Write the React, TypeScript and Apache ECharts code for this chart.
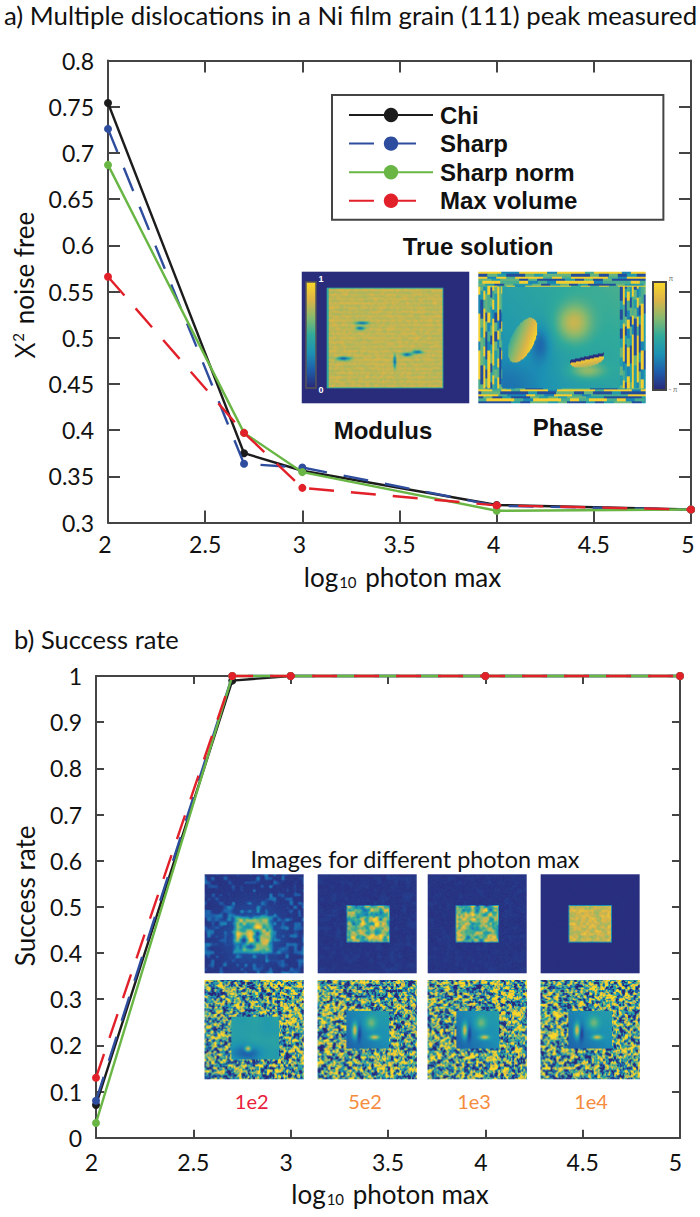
import React, { useEffect, useRef } from "react";
import * as echarts from "echarts";

const photonLog = [2, 2.7, 3, 4, 5];
const chiA = [0.754, 0.375, 0.356, 0.319, 0.314];
const sharpA = [0.726, 0.3635, 0.3595, 0.318, 0.314];
const sharpNormA = [0.687, 0.397, 0.3545, 0.3127, 0.314];
const maxVolumeA = [0.566, 0.397, 0.3375, 0.3185, 0.314];
const chiB = [0.071, 0.99, 1, 1, 1];
const sharpB = [0.08, 1, 1, 1, 1];
const sharpNormB = [0.032, 1, 1, 1, 1];
const maxVolumeB = [0.13, 1, 1, 1, 1];
const seriesNames = ["Chi", "Sharp", "Sharp norm", "Max volume"];
const seriesColors = ["#1c1c1c", "#2f4d9e", "#69b645", "#e2202a"];
const panelLabels = ["1e2", "5e2", "1e3", "1e4"];
const panelLabelColors = ["#e8203c", "#f58b3d", "#f58b3d", "#f58b3d"];

const FONT = 'Lato, "Open Sans", sans-serif';
const BOLD = '"Liberation Sans", Arial, sans-serif';
const AXIS = "#444444";

const STOPS: [number, number, number][] = [
  [42, 40, 120], [30, 92, 170], [28, 145, 180], [48, 170, 155], [135, 185, 110], [220, 180, 72], [250, 216, 40],
];
function cmap(t: number) {
  const c = Math.max(0, Math.min(0.9999, t)) * (STOPS.length - 1);
  const i = Math.floor(c), f = c - i;
  const a = STOPS[i], b = STOPS[i + 1];
  return [a[0] + (b[0] - a[0]) * f, a[1] + (b[1] - a[1]) * f, a[2] + (b[2] - a[2]) * f];
}
function hash(x: number, y: number, s: number) {
  const v = Math.sin(x * 12.9898 + y * 78.233 + s * 37.719) * 43758.5453;
  return v - Math.floor(v);
}
function vnoise(x: number, y: number, s: number) {
  const xi = Math.floor(x), yi = Math.floor(y);
  let fx = x - xi, fy = y - yi;
  fx = fx * fx * (3 - 2 * fx);
  fy = fy * fy * (3 - 2 * fy);
  const a = hash(xi, yi, s), b = hash(xi + 1, yi, s), c = hash(xi, yi + 1, s), d = hash(xi + 1, yi + 1, s);
  return a + (b - a) * fx + (c - a) * fy + (a - b - c + d) * fx * fy;
}
const gauss = (u: number, v: number, cx: number, cy: number, rx: number, ry: number) =>
  Math.exp(-(((u - cx) / rx) ** 2 + ((v - cy) / ry) ** 2));

function texture(w: number, h: number, fn: (u: number, v: number) => number) {
  const cv = document.createElement("canvas");
  cv.width = w;
  cv.height = h;
  const ctx = cv.getContext("2d")!;
  const im = ctx.createImageData(w, h);
  for (let y = 0; y < h; y++)
    for (let x = 0; x < w; x++) {
      const [r, g, b] = cmap(fn((x + 0.5) / w, (y + 0.5) / h));
      const k = (y * w + x) * 4;
      im.data[k] = r; im.data[k + 1] = g; im.data[k + 2] = b; im.data[k + 3] = 255;
    }
  ctx.putImageData(im, 0, 0);
  return cv.toDataURL("image/png");
}

const modulusTrue = (u: number, v: number) => {
  const inside = u > 0.15 && u < 0.845 && v > 0.12 && v < 0.885;
  if (!inside) return 0.01;
  const edge = Math.min(u - 0.15, 0.845 - u, v - 0.12, 0.885 - v);
  if (edge < 0.008) return 0.5;
  let t = 0.78 + 0.025 * Math.sin(v * 190) + 0.09 * (vnoise(u * 70, v * 70, 3) - 0.5);
  t -= 0.55 * gauss(u, v, 0.36, 0.39, 0.04, 0.012);
  t -= 0.6 * gauss(u, v, 0.35, 0.43, 0.025, 0.012);
  t -= 0.6 * gauss(u, v, 0.25, 0.66, 0.04, 0.014);
  t -= 0.6 * gauss(u, v, 0.555, 0.68, 0.008, 0.05);
  t -= 0.6 * gauss(u, v, 0.63, 0.63, 0.03, 0.012);
  t -= 0.6 * gauss(u, v, 0.69, 0.61, 0.03, 0.012);
  return t;
};

const mazeCell = (u: number, v: number) => {
  const W = 72, H = 56;
  const horiz = v < 0.11 || v > 0.885;
  const line = horiz ? Math.floor(v * H) : Math.floor(u * W);
  const along = horiz ? u * W : v * H;
  const seg = Math.floor(along / 4 + hash(line, 1, 8) * 4);
  const r = hash(line, seg, 5);
  if (line % 2 === 0) return r < 0.62 ? 0.96 : r < 0.85 ? 0.55 : 0.3;
  return r < 0.45 ? 0.12 : r < 0.75 ? 0.4 : 0.6;
};
const phaseTrue = (u: number, v: number) => {
  const inside = u > 0.14 && u < 0.845 && v > 0.11 && v < 0.885;
  if (!inside) return mazeCell(u, v);
  let t = 0.3 + 0.18 * u - 0.12 * (v - 0.5) + 0.05;
  t -= 0.1 * gauss(u, v, 0.2, 0.85, 0.2, 0.2);
  t += 0.33 * gauss(u, v, 0.57, 0.39, 0.1, 0.14);
  const d1 = (u - 0.265 - (v - 0.52) * -0.28) / 0.075, d2 = (v - 0.52) / 0.17;
  if (d1 * d1 + d2 * d2 < 1) t = 0.52 + 0.46 * (d1 + 1) / 2;
  else t -= 0.2 * gauss(u, v, 0.37, 0.55, 0.06, 0.14);
  const d3 = (u - 0.65) / 0.1, d4 = (v - 0.675 - (u - 0.65) * -0.22) / 0.05;
  if (d3 * d3 + d4 * d4 < 1 && v > 0.655 - (u - 0.65) * 0.28) t = 0.92 - 0.2 * Math.max(0, d4);
  else t += 0.25 * gauss(u, v, 0.65, 0.75, 0.1, 0.06);
  if (Math.abs(v - 0.655 + (u - 0.65) * 0.28) < 0.012 && Math.abs(u - 0.65) < 0.1) t = 0.02;
  return t;
};
const colorbar = (_u: number, v: number) => 1 - v;

function noisyModulus(i: number) {
  const bgAmp = [0.3, 0.04, 0.03, 0.006][i];
  const hi = [0.54, 0.6, 0.58, 0.8][i];
  const amp = [0.55, 0.55, 0.55, 0.16][i];
  const x0 = [0.28, 0.29, 0.28, 0.28][i], x1 = [0.7, 0.73, 0.72, 0.72][i];
  const y0 = [0.41, 0.31, 0.31, 0.31][i], y1 = [0.81, 0.69, 0.69, 0.69][i];
  return (u: number, v: number) => {
    const halo = i === 0 ? 0.13 * gauss(u, v, 0.49, 0.61, 0.3, 0.28) : 0;
    const bg = 0.02 + halo + bgAmp * Math.max(0, vnoise(u * 24, v * 24, 10 + i) - 0.55) * 1.8 + 0.04 * hash(u * 100, v * 100, i) * (i === 3 ? 0 : 1);
    const s = i === 0 ? 0.05 : 0.012;
    const mask = Math.min(
      Math.min(1, Math.max(0, (u - x0) / s)), Math.min(1, Math.max(0, (x1 - u) / s)),
      Math.min(1, Math.max(0, (v - y0) / s)), Math.min(1, Math.max(0, (y1 - v) / s)),
    );
    const scale = i === 3 ? 38 : i === 0 ? 15 : 22;
    const n = 0.65 * vnoise(u * scale, v * scale, 20 + i) + 0.35 * vnoise(u * scale * 2, v * scale * 2, 30 + i);
    const val = hi + (n - 0.5) * 2 * amp;
    return bg * (1 - mask) + val * mask;
  };
}
function noisyPhase(i: number) {
  const x0 = [0.27, 0.29, 0.29, 0.28][i], x1 = [0.75, 0.72, 0.72, 0.72][i];
  const y0 = [0.37, 0.31, 0.31, 0.31][i], y1 = [0.8, 0.69, 0.69, 0.69][i];
  return (u: number, v: number) => {
    const n = 0.55 * vnoise(u * 36, v * 36, 40 + i) + 0.45 * vnoise(u * 72, v * 72, 50 + i);
    const out = 0.5 + (n - 0.5) * 2.5;
    if (u < x0 || u > x1 || v < y0 || v > y1) return out;
    const cu = (u - x0) / (x1 - x0), cv = (v - y0) / (y1 - y0);
    let t = i === 0 ? 0.42 + 0.08 * (vnoise(u * 8, v * 8, 60) - 0.5) : 0.25 + 0.14 * cu - 0.1 * cv + 0.03;
    if (i === 0) {
      t -= 0.24 * gauss(cu, cv, 0.3, 0.85, 0.3, 0.2);
      t += 0.6 * gauss(cu, cv, 0.35, 0.75, 0.06, 0.06);
    } else {
      t += 0.6 * gauss(cu, cv, 0.2, 0.52, 0.06, 0.18);
      t -= 0.2 * gauss(cu, cv, 0.3, 0.6, 0.05, 0.2);
      t += 0.3 * gauss(cu, cv, 0.58, 0.32, 0.13, 0.17);
      t += 0.55 * gauss(cu, cv, 0.66, 0.7, 0.11, 0.06);
    }
    return t;
  };
}

const rich = {
  n: { fontFamily: FONT, fontSize: 26, color: "#111" },
  x: { fontFamily: '"Open Sans", sans-serif', fontSize: 27, color: "#111" },
  sub: { fontFamily: FONT, fontSize: 15, color: "#111", verticalAlign: "bottom", padding: [10, 2, 0, 1] },
  sup: { fontFamily: FONT, fontSize: 15, color: "#111", verticalAlign: "top", padding: [0, 2, 10, 1] },
};
const xName = "{n|log}{sub|10}{n| photon max}";

function xAxes(gridIndex: number, nameGap: number, padLeft: number, margin: number, tick: number, intPad: number) {
  const base = {
    gridIndex, type: "value", min: 2, max: 5, interval: 0.5,
    splitLine: { show: false },
    axisLine: { show: true, onZero: false, lineStyle: { color: AXIS, width: 2 } },
    axisTick: { show: true, inside: true, length: tick, lineStyle: { color: AXIS, width: 2 } },
  };
  return [
    {
      ...base, position: "bottom", name: xName, nameLocation: "middle", nameGap,
      nameTextStyle: { rich, padding: [0, 0, 0, padLeft] },
      axisLabel: {
        fontFamily: FONT, fontSize: 23, color: "#111", margin, showMinLabel: true, showMaxLabel: true,
        formatter: (v: number) => (Number.isInteger(v) ? `{i|${v}}` : `${v}`),
        rich: { i: { fontFamily: FONT, fontSize: 23, color: "#111", padding: [0, intPad, 0, 0] } },
      },
    },
    { ...base, position: "top", axisLabel: { show: false } },
  ];
}
function yAxes(gridIndex: number, min: number, max: number, interval: number, name: string, nameGap: number, padLeft: number, raise: number, tick: number) {
  const base = {
    gridIndex, type: "value", min, max, interval,
    splitLine: { show: false },
    axisLine: { show: true, onZero: false, lineStyle: { color: AXIS, width: 2 } },
    axisTick: { show: true, inside: true, length: tick, lineStyle: { color: AXIS, width: 2 } },
  };
  return [
    {
      ...base, position: "left", name, nameLocation: "middle", nameGap, nameRotate: 90,
      nameTextStyle: { rich, padding: [0, 0, 0, padLeft] },
      axisLabel: { fontFamily: FONT, fontSize: 23, color: "#111", margin: 14, padding: [0, 0, raise, 0], showMinLabel: true, showMaxLabel: true },
    },
    { ...base, position: "right", axisLabel: { show: false } },
  ];
}
function lineSeries(i: number, values: number[], axisIndex: number) {
  const dashed = i === 1 || i === 3;
  return {
    type: "line", name: seriesNames[i], xAxisIndex: axisIndex, yAxisIndex: axisIndex,
    data: values.map((y, k) => [photonLog[k], y]),
    symbol: "circle", symbolSize: 8, clip: false, z: 3 + i,
    itemStyle: { color: seriesColors[i] },
    lineStyle: { color: seriesColors[i], width: 2.4, type: dashed ? [25, 17] : "solid" },
  };
}
function boldText(text: string, x: number, y: number) {
  return { type: "text", x, y, style: { text, fontFamily: BOLD, fontWeight: "bold", fontSize: 24, fill: "#111", align: "center", verticalAlign: "middle" } };
}
function img(image: string, x: number, y: number, width: number, height: number) {
  return { type: "image", style: { image, x, y, width, height } };
}

function buildGraphic() {
  const cols = [[204.3, 99.7], [316.7, 101], [426.7, 101], [540.3, 99.7]];
  const els: any[] = [
    boldText("True solution", 478, 246),
    boldText("Modulus", 383, 430),
    boldText("Phase", 568, 427),
    img(texture(168, 132, modulusTrue), 301.7, 271.7, 167.6, 131.6),
    img(texture(168, 132, phaseTrue), 478.3, 271.7, 167.4, 131.6),
    { ...img(texture(10, 106, colorbar), 306, 282, 10, 106), z: 4 },
    { type: "rect", shape: { x: 306, y: 282, width: 10, height: 106 }, style: { fill: "none", stroke: "#555", lineWidth: 1.5 }, z: 5 },
    { type: "text", x: 321, y: 279, z: 5, style: { text: "1", fontFamily: BOLD, fontWeight: "bold", fontSize: 9, fill: "#ffffff", align: "center", verticalAlign: "middle" } },
    { type: "text", x: 321, y: 390, z: 5, style: { text: "0", fontFamily: BOLD, fontWeight: "bold", fontSize: 9, fill: "#ffffff", align: "center", verticalAlign: "middle" } },
    { ...img(texture(13, 108, colorbar), 653, 282, 13, 108), z: 4 },
    { type: "rect", shape: { x: 653, y: 282, width: 13, height: 108 }, style: { fill: "none", stroke: "#444", lineWidth: 2 }, z: 5 },
    { type: "text", x: 671, y: 278, style: { text: "π", fontFamily: FONT, fontSize: 7, fill: "#777", align: "center", verticalAlign: "middle" } },
    { type: "text", x: 673, y: 389, style: { text: "- π", fontFamily: FONT, fontSize: 7, fill: "#777", align: "center", verticalAlign: "middle" } },
    { type: "text", x: 415, y: 859, style: { text: "Images for different photon max", fontFamily: FONT, fontSize: 23.4, fill: "#111", align: "center", verticalAlign: "middle" } },
  ];
  cols.forEach(([x, w], i) => {
    els.push(img(texture(100, 100, noisyModulus(i)), x, 874.3, w, 99));
    els.push(img(texture(100, 100, noisyPhase(i)), x, 980, w, 99.3));
  });
  panelLabels.forEach((t, i) => {
    els.push({
      type: "text", x: [251.7, 365, 474, 591][i], y: 1101,
      style: { text: t, fontFamily: FONT, fontSize: 20, fill: panelLabelColors[i], align: "center", verticalAlign: "middle" },
    });
  });
  return els;
}

export default function App() {
  const ref = useRef<HTMLDivElement>(null);
  useEffect(() => {
    const chart = echarts.init(ref.current!, null, { renderer: "svg" });
    chart.setOption({
      animation: false,
      backgroundColor: "#ffffff",
      title: [
        { text: "a) Multiple dislocations in a Ni film grain (111) peak measured", left: 4, top: 2, padding: 0, textStyle: { fontFamily: FONT, fontSize: 25.8, fontWeight: "normal", color: "#111" } },
        { text: "b) Success rate", left: 14, top: 626, padding: 0, textStyle: { fontFamily: FONT, fontSize: 25.5, fontWeight: "normal", color: "#111" } },
      ],
      legend: {
        data: seriesNames, orient: "vertical", left: 332, top: 95,
        padding: [8, 86, 7, 16], itemWidth: 84, itemHeight: 18, itemGap: 4.6,
        borderColor: AXIS, borderWidth: 2, selectedMode: false,
        textStyle: { fontFamily: BOLD, fontWeight: "bold", fontSize: 24, color: "#111", padding: [0, 0, 0, 2] },
      },
      grid: [
        { left: 108, top: 60.5, width: 583, height: 462, containLabel: false },
        { left: 96, top: 676, width: 584, height: 461.7, containLabel: false },
      ],
      xAxis: [...xAxes(0, 41, 6, 10, 12, 6), ...xAxes(1, 43, 4, 13, 8, 9)],
      yAxis: [
        ...yAxes(0, 0.3, 0.8, 0.05, "{x|Χ}{sup|2}{n| noise free}", 70, 13, 8, 12),
        ...yAxes(1, 0, 1, 0.1, "{n|Success rate}", 58, 22, 4, 8),
      ],
      series: [
        lineSeries(0, chiA, 0), lineSeries(1, sharpA, 0), lineSeries(2, sharpNormA, 0), lineSeries(3, maxVolumeA, 0),
        lineSeries(0, chiB, 2), lineSeries(1, sharpB, 2), lineSeries(2, sharpNormB, 2), lineSeries(3, maxVolumeB, 2),
      ],
      graphic: buildGraphic(),
    });
    return () => chart.dispose();
  }, []);
  return <div ref={ref} style={{ position: "absolute", left: 0, top: 0, width: 700, height: 1217 }} />;
}
